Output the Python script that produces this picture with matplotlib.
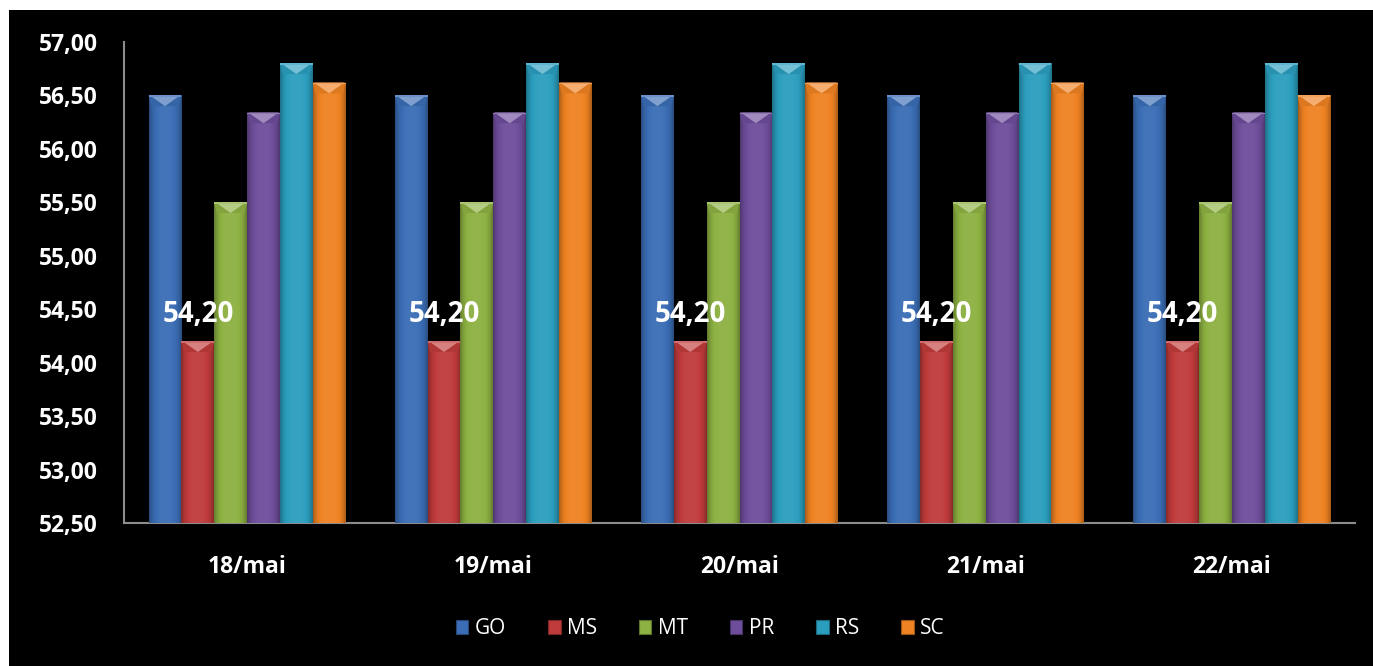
import numpy as np
import matplotlib
matplotlib.use("Agg")
import matplotlib.pyplot as plt
from matplotlib.patches import Rectangle, Polygon
from matplotlib.colors import to_rgb
from matplotlib.ticker import FuncFormatter

# Prices per state, by day
days = ["18/mai", "19/mai", "20/mai", "21/mai", "22/mai"]
states = ["GO", "MS", "MT", "PR", "RS", "SC"]
go = [56.50, 56.50, 56.50, 56.50, 56.50]
ms = [54.20, 54.20, 54.20, 54.20, 54.20]
mt = [55.50, 55.50, 55.50, 55.50, 55.50]
pr = [56.34, 56.34, 56.34, 56.34, 56.34]
rs = [56.80, 56.80, 56.80, 56.80, 56.80]
sc = [56.62, 56.62, 56.62, 56.62, 56.50]
series = [go, ms, mt, pr, rs, sc]
labelled_series = "MS"

colors = ["#3a6db5", "#c03b3b", "#8db142", "#6e4d9b", "#2b9ebe", "#ef8222"]
FONT = "Open Sans"

W, H = 1373, 666
fig = plt.figure(figsize=(W / 100, H / 100), dpi=100, facecolor="white")
fig.patches.append(Rectangle((9 / W, 0), 1, (H - 10) / H, transform=fig.transFigure,
                             facecolor="black", edgecolor="none", zorder=-10))

ax = fig.add_axes([124 / W, (H - 523) / H, (1355 - 124) / W, (523 - 42) / H])
ax.set_facecolor("black")
ax.patch.set_alpha(0)

ymin, ymax = 52.5, 57.0
ax.set_ylim(ymin, ymax)
ax.set_xlim(-0.5, len(days) - 0.5)

x = np.arange(len(days))
group = 0.8
bw = group / len(states)


def shade(c, f):
    r, g, b = to_rgb(c)
    if f >= 0:
        return (r + (1 - r) * f, g + (1 - g) * f, b + (1 - b) * f)
    return (r * (1 + f), g * (1 + f), b * (1 + f))


# horizontal shading profile for a rounded look
prof = np.linspace(-1, 1, 64)
prof = -0.30 * prof ** 4 + 0.05 * (1 - prof ** 2)

bevel = 0.10  # height of the bevelled cap, in data units

handles = []
for i, (name, vals, col) in enumerate(zip(states, series, colors)):
    offs = x + (i - (len(states) - 1) / 2) * bw
    bars = ax.bar(offs, np.array(vals) - ymin, width=bw, bottom=ymin,
                  color=col, edgecolor="none", zorder=2, label=name)
    for b in bars:
        x0, y0 = b.get_x(), b.get_y()
        w, h = b.get_width(), b.get_height()
        x1, top = x0 + w, y0 + h
        img = np.array([[shade(col, f) for f in prof]])
        im = ax.imshow(img, extent=[x0, x1, y0, top], aspect="auto",
                       interpolation="bicubic", zorder=3)
        im.set_clip_path(b)
        xc = x0 + w / 2
        # bevelled cap: light wedge in the middle, mid-tone sides
        ax.add_patch(Polygon([(x0, top), (x1, top), (x1 - 0.08 * w, top - bevel),
                              (x0 + 0.08 * w, top - bevel)], closed=True,
                             facecolor=shade(col, -0.08), edgecolor="none", zorder=4))
        ax.add_patch(Polygon([(x0 + 0.04 * w, top), (x1 - 0.04 * w, top),
                              (xc, top - bevel)], closed=True,
                             facecolor=shade(col, 0.35), edgecolor="none", zorder=5))
        ax.add_patch(Polygon([(x0, top), (x1, top), (x1, top - 0.012), (x0, top - 0.012)],
                             closed=True, facecolor=shade(col, 0.25),
                             edgecolor="none", zorder=5))
        if name == labelled_series:
            ax.annotate(f"{h + y0:.2f}".replace(".", ","), (xc, top),
                        xytext=(0, 14), textcoords="offset points",
                        ha="center", va="baseline", color="white",
                        fontsize=20, fontweight="bold", family=FONT, zorder=6)
    handles.append(Rectangle((0, 0), 1, 1, facecolor=col, edgecolor=shade(col, -0.35),
                             linewidth=0.8))

for s in ["top", "right"]:
    ax.spines[s].set_visible(False)
for s in ["left", "bottom"]:
    ax.spines[s].set_color("#8c8c8c")
    ax.spines[s].set_linewidth(1.5)

ax.set_yticks(np.arange(52.5, 57.01, 0.5))
ax.yaxis.set_major_formatter(FuncFormatter(lambda v, p: f"{v:.2f}".replace(".", ",")))
ax.set_xticks(x)
ax.set_xticklabels(days)
ax.tick_params(axis="y", length=0, pad=19, labelcolor="white", labelsize=16.5)
ax.tick_params(axis="x", length=0, pad=23, labelcolor="white", labelsize=16.5)
for lab in ax.get_yticklabels() + ax.get_xticklabels():
    lab.set_fontweight("bold")
    lab.set_family(FONT)

leg = fig.legend(handles, states, loc="center", bbox_to_anchor=(700 / W, (H - 629) / H),
                 ncol=6, frameon=False, handlelength=0.62, handleheight=0.62,
                 handletextpad=0.3, columnspacing=2.0,
                 prop={"family": FONT, "size": 15})
for t in leg.get_texts():
    t.set_color("white")

fig.savefig("out.png", dpi=100, facecolor=fig.get_facecolor())
